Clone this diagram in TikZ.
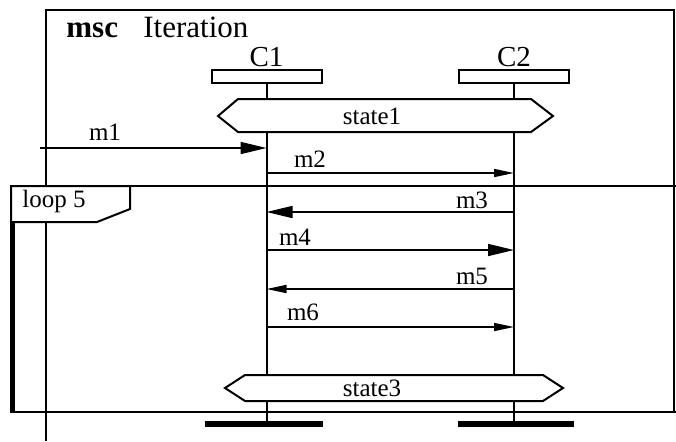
\documentclass[tikz,border=0pt]{standalone}
\usepackage{fontspec}
\setmainfont{Liberation Serif}
\usetikzlibrary{arrows.meta}

\tikzset{
  frameline/.style={line width=1pt},
  lifeline/.style={line width=1pt},
  msgline/.style={line width=0.8pt},
  bigtip/.style={-{Triangle[length=13pt,width=6pt]}},
  smalltip/.style={-{Triangle[length=10pt,width=4pt]}},
  headbox/.style={draw, line width=1pt, fill=white, minimum width=55pt,
    minimum height=6.5pt, inner sep=0pt},
  endbar/.style={line width=3pt},
  statebox/.style={draw, line width=1pt, fill=white},
  lbl/.style={font=\fontsize{12.5}{13}\selectfont, inner sep=0pt},
}

\begin{document}
\begin{tikzpicture}[x=0.5pt, y=-0.5pt]
\useasboundingbox (0,0) rectangle (676,441);

% msc frame
\draw[frameline] (46,441) -- (46,10) -- (674,10) -- (674,412);
\node[anchor=base west, font=\fontsize{15.5}{16}\selectfont\bfseries, inner sep=0pt] (msc) at (66,37) {msc};
\node[anchor=base west, font=\fontsize{15.5}{16}\selectfont, inner sep=0pt] (title) at (143,37) {Iteration};

% instance heads
\node[headbox] (c1) at (266.5,76.5) {};
\node[headbox] (c2) at (514,76.5) {};
\node[font=\fontsize{14.5}{15}\selectfont, above=1pt, inner sep=0pt] (c1name) at (c1.north) {C1};
\node[font=\fontsize{14.5}{15}\selectfont, above=1pt, inner sep=0pt] (c2name) at (c2.north) {C2};

% instance ends
\coordinate (c1end) at (c1 |- 0,424);
\coordinate (c2end) at (c2 |- 0,424);
\draw[lifeline] (c1.south) -- (c1end);
\draw[lifeline] (c2.south) -- (c2end);
\draw[endbar] ([xshift=-31pt]c1end) -- ([xshift=28pt]c1end);
\draw[endbar] ([xshift=-28pt]c2end) -- ([xshift=30pt]c2end);

% states
\draw[statebox] (218,116) -- (238,99) -- (531,99) -- (553,116) -- (531,132) -- (238,132) -- cycle;
\node[lbl] (state1) at (372,116) {state1};
\draw[statebox] (225,388) -- (245,375) -- (543,375) -- (563,388) -- (543,401) -- (245,401) -- cycle;
\node[lbl] (state3) at (372,388) {state3};

% loop
\draw[frameline] (10,186) -- (676,186);
\draw[frameline] (10,412) -- (676,412);
\draw[line width=2.5pt] (12.5,186) -- (12.5,412);
\draw[frameline, fill=white] (11,186) -- (130,186) -- (130,209) -- (97,222) -- (11,222) -- cycle;
\node[lbl, anchor=west] (loop) at (22,201) {loop 5};

% messages
\coordinate (m1s) at (40,148);
\draw[msgline, bigtip] (m1s) -- (c1 |- m1s);
\node[lbl] (m1) at (105,132) {m1};

\coordinate (m2y) at (0,173);
\draw[msgline, smalltip] (c1 |- m2y) -- (c2 |- m2y);
\node[lbl] (m2) at (310,159) {m2};

\coordinate (m3y) at (0,212);
\draw[msgline, bigtip] (c2 |- m3y) -- (c1 |- m3y);
\node[lbl] (m3) at (472,200) {m3};

\coordinate (m4y) at (0,250);
\draw[msgline, bigtip] (c1 |- m4y) -- (c2 |- m4y);
\node[lbl] (m4) at (295,237) {m4};

\coordinate (m5y) at (0,289);
\draw[msgline, smalltip] (c2 |- m5y) -- (c1 |- m5y);
\node[lbl] (m5) at (472,276) {m5};

\coordinate (m6y) at (0,327);
\draw[msgline, smalltip] (c1 |- m6y) -- (c2 |- m6y);
\node[lbl] (m6) at (303,312) {m6};

\end{tikzpicture}
\end{document}
